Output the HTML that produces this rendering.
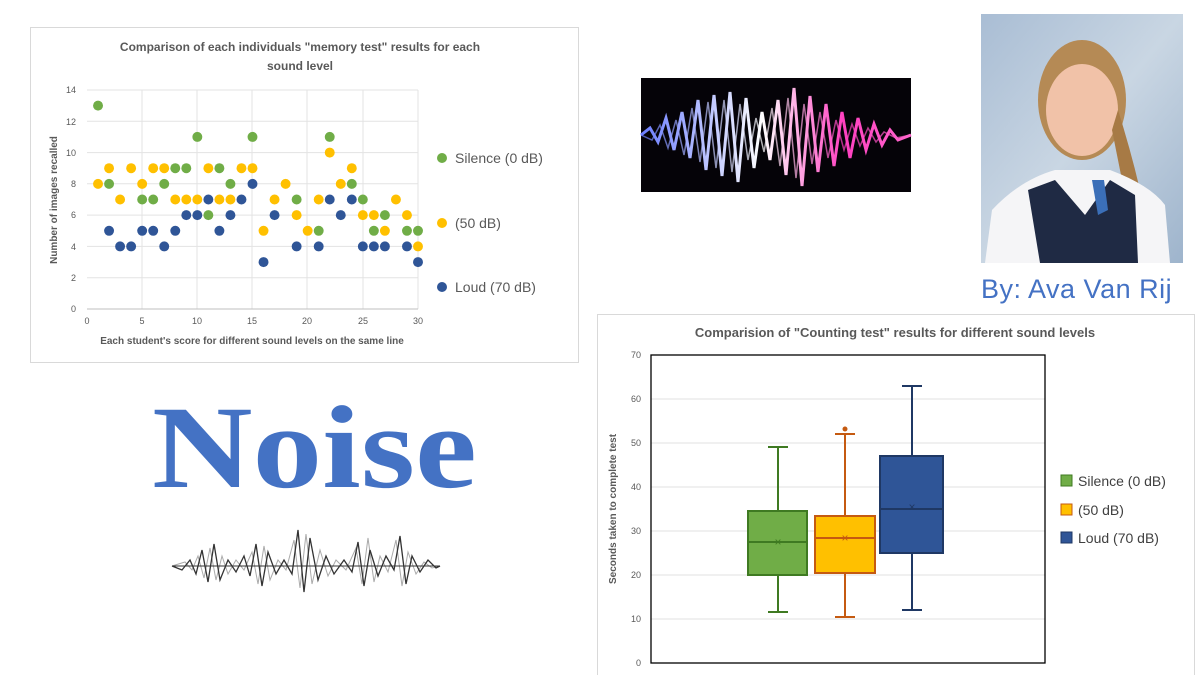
<!DOCTYPE html>
<html><head><style>
body{margin:0;width:1200px;height:675px;background:#fff;position:relative;overflow:hidden;font-family:"Liberation Sans",sans-serif}
.a{position:absolute}
</style></head><body>
<svg class="a" style="left:0;top:0" width="1200" height="675">
<!-- scatter chart frame -->
<rect x="30.5" y="27.5" width="548" height="335" fill="#fff" stroke="#d9d9d9"/>
<text x="300" y="51" font-size="12" font-weight="bold" fill="#595959" text-anchor="middle">Comparison of each individuals "memory test" results for each</text>
<text x="300" y="70" font-size="12" font-weight="bold" fill="#595959" text-anchor="middle">sound level</text>
<g stroke="#e3e3e3" stroke-width="1">
<line x1="87" x2="418" y1="90" y2="90"/><line x1="87" x2="418" y1="121.3" y2="121.3"/><line x1="87" x2="418" y1="152.6" y2="152.6"/><line x1="87" x2="418" y1="183.8" y2="183.8"/><line x1="87" x2="418" y1="215.1" y2="215.1"/><line x1="87" x2="418" y1="246.4" y2="246.4"/><line x1="87" x2="418" y1="277.7" y2="277.7"/>
<line x1="142" x2="142" y1="90" y2="309"/><line x1="197" x2="197" y1="90" y2="309"/><line x1="252" x2="252" y1="90" y2="309"/><line x1="307" x2="307" y1="90" y2="309"/><line x1="363" x2="363" y1="90" y2="309"/><line x1="418" x2="418" y1="90" y2="309"/>
</g>
<line x1="87" x2="418" y1="309" y2="309" stroke="#bfbfbf"/>
<g font-size="9" fill="#595959" text-anchor="end">
<text x="76" y="312">0</text><text x="76" y="281">2</text><text x="76" y="250">4</text><text x="76" y="218">6</text><text x="76" y="187">8</text><text x="76" y="156">10</text><text x="76" y="125">12</text><text x="76" y="93">14</text>
</g>
<g font-size="9" fill="#595959" text-anchor="middle">
<text x="87" y="324">0</text><text x="142" y="324">5</text><text x="197" y="324">10</text><text x="252" y="324">15</text><text x="307" y="324">20</text><text x="363" y="324">25</text><text x="418" y="324">30</text>
</g>
<text x="252" y="344" font-size="10" font-weight="bold" fill="#595959" text-anchor="middle">Each student's score for different sound levels on the same line</text>
<text transform="translate(57,200) rotate(-90)" font-size="10" font-weight="bold" fill="#595959" text-anchor="middle">Number of images recalled</text>
<svg x="87" y="90" width="331" height="219" viewBox="0 0 30 14" preserveAspectRatio="none" overflow="visible">
<g fill="#70ad47">
<ellipse cx="1" cy="1" rx=".45" ry=".32"/><ellipse cx="2" cy="6" rx=".45" ry=".32"/><ellipse cx="5" cy="7" rx=".45" ry=".32"/><ellipse cx="6" cy="7" rx=".45" ry=".32"/><ellipse cx="7" cy="6" rx=".45" ry=".32"/><ellipse cx="8" cy="5" rx=".45" ry=".32"/><ellipse cx="9" cy="5" rx=".45" ry=".32"/><ellipse cx="10" cy="3" rx=".45" ry=".32"/><ellipse cx="11" cy="8" rx=".45" ry=".32"/><ellipse cx="12" cy="5" rx=".45" ry=".32"/><ellipse cx="13" cy="6" rx=".45" ry=".32"/><ellipse cx="15" cy="3" rx=".45" ry=".32"/><ellipse cx="19" cy="7" rx=".45" ry=".32"/><ellipse cx="21" cy="9" rx=".45" ry=".32"/><ellipse cx="22" cy="3" rx=".45" ry=".32"/><ellipse cx="24" cy="6" rx=".45" ry=".32"/><ellipse cx="25" cy="7" rx=".45" ry=".32"/><ellipse cx="26" cy="9" rx=".45" ry=".32"/><ellipse cx="27" cy="8" rx=".45" ry=".32"/><ellipse cx="29" cy="9" rx=".45" ry=".32"/><ellipse cx="30" cy="9" rx=".45" ry=".32"/>
</g>
<g fill="#ffc000">
<ellipse cx="1" cy="6" rx=".45" ry=".32"/><ellipse cx="2" cy="5" rx=".45" ry=".32"/><ellipse cx="3" cy="7" rx=".45" ry=".32"/><ellipse cx="4" cy="5" rx=".45" ry=".32"/><ellipse cx="5" cy="6" rx=".45" ry=".32"/><ellipse cx="6" cy="5" rx=".45" ry=".32"/><ellipse cx="7" cy="5" rx=".45" ry=".32"/><ellipse cx="8" cy="7" rx=".45" ry=".32"/><ellipse cx="9" cy="7" rx=".45" ry=".32"/><ellipse cx="10" cy="7" rx=".45" ry=".32"/><ellipse cx="11" cy="5" rx=".45" ry=".32"/><ellipse cx="12" cy="7" rx=".45" ry=".32"/><ellipse cx="13" cy="7" rx=".45" ry=".32"/><ellipse cx="14" cy="5" rx=".45" ry=".32"/><ellipse cx="15" cy="5" rx=".45" ry=".32"/><ellipse cx="16" cy="9" rx=".45" ry=".32"/><ellipse cx="17" cy="7" rx=".45" ry=".32"/><ellipse cx="18" cy="6" rx=".45" ry=".32"/><ellipse cx="19" cy="8" rx=".45" ry=".32"/><ellipse cx="20" cy="9" rx=".45" ry=".32"/><ellipse cx="21" cy="7" rx=".45" ry=".32"/><ellipse cx="22" cy="4" rx=".45" ry=".32"/><ellipse cx="23" cy="6" rx=".45" ry=".32"/><ellipse cx="24" cy="5" rx=".45" ry=".32"/><ellipse cx="25" cy="8" rx=".45" ry=".32"/><ellipse cx="26" cy="8" rx=".45" ry=".32"/><ellipse cx="27" cy="9" rx=".45" ry=".32"/><ellipse cx="28" cy="7" rx=".45" ry=".32"/><ellipse cx="29" cy="8" rx=".45" ry=".32"/><ellipse cx="30" cy="10" rx=".45" ry=".32"/>
</g>
<g fill="#2f5597">
<ellipse cx="2" cy="9" rx=".45" ry=".32"/><ellipse cx="3" cy="10" rx=".45" ry=".32"/><ellipse cx="4" cy="10" rx=".45" ry=".32"/><ellipse cx="5" cy="9" rx=".45" ry=".32"/><ellipse cx="6" cy="9" rx=".45" ry=".32"/><ellipse cx="7" cy="10" rx=".45" ry=".32"/><ellipse cx="8" cy="9" rx=".45" ry=".32"/><ellipse cx="9" cy="8" rx=".45" ry=".32"/><ellipse cx="10" cy="8" rx=".45" ry=".32"/><ellipse cx="11" cy="7" rx=".45" ry=".32"/><ellipse cx="12" cy="9" rx=".45" ry=".32"/><ellipse cx="13" cy="8" rx=".45" ry=".32"/><ellipse cx="14" cy="7" rx=".45" ry=".32"/><ellipse cx="15" cy="6" rx=".45" ry=".32"/><ellipse cx="16" cy="11" rx=".45" ry=".32"/><ellipse cx="17" cy="8" rx=".45" ry=".32"/><ellipse cx="19" cy="10" rx=".45" ry=".32"/><ellipse cx="21" cy="10" rx=".45" ry=".32"/><ellipse cx="22" cy="7" rx=".45" ry=".32"/><ellipse cx="23" cy="8" rx=".45" ry=".32"/><ellipse cx="24" cy="7" rx=".45" ry=".32"/><ellipse cx="25" cy="10" rx=".45" ry=".32"/><ellipse cx="26" cy="10" rx=".45" ry=".32"/><ellipse cx="27" cy="10" rx=".45" ry=".32"/><ellipse cx="29" cy="10" rx=".45" ry=".32"/><ellipse cx="30" cy="11" rx=".45" ry=".32"/>
</g>
</svg>
<circle cx="442" cy="158" r="5" fill="#70ad47"/><text x="455" y="163" font-size="14" fill="#595959">Silence (0 dB)</text>
<circle cx="442" cy="223" r="5" fill="#ffc000"/><text x="455" y="228" font-size="14" fill="#595959">(50 dB)</text>
<circle cx="442" cy="287" r="5" fill="#2f5597"/><text x="455" y="292" font-size="14" fill="#595959">Loud (70 dB)</text>

<!-- neon wave -->
<rect x="641" y="78" width="270" height="114" fill="#050308"/>
<defs><linearGradient id="ng" x1="0" x2="1"><stop offset="0" stop-color="#6a7cff"/><stop offset=".45" stop-color="#ffffff"/><stop offset=".75" stop-color="#ff3fc0"/><stop offset="1" stop-color="#ff66cc"/></linearGradient></defs>
<polyline fill="none" stroke="url(#ng)" stroke-width="3" points="641,135 650,128 658,142 666,118 674,150 682,112 690,158 698,100 706,170 714,95 722,176 730,92 738,182 746,98 754,168 762,112 770,160 778,100 786,175 794,88 802,186 810,96 818,172 826,104 834,166 842,112 850,158 858,118 866,150 874,124 882,145 890,130 898,140 911,135"/>
<polyline fill="none" stroke="url(#ng)" stroke-width="1.5" opacity=".7" points="641,135 652,140 660,125 668,148 676,120 684,155 692,108 700,162 708,102 716,168 724,100 732,172 740,104 748,160 756,118 764,152 772,108 780,166 788,98 796,178 804,104 812,164 820,112 828,158 836,120 844,150 852,124 860,146 868,128 876,142 884,132 896,138 911,135"/>

<!-- photo -->
<defs><linearGradient id="pg" x1="0" y1="0" x2="1" y2="1"><stop offset="0" stop-color="#a9bdd4"/><stop offset=".5" stop-color="#c9d6e3"/><stop offset="1" stop-color="#9eb4cc"/></linearGradient></defs>
<rect x="981" y="14" width="202" height="249" fill="url(#pg)"/>
<ellipse cx="1082" cy="100" rx="44" ry="60" fill="#b58a55"/>
<ellipse cx="1082" cy="110" rx="36" ry="46" fill="#f1c2a8"/>
<path d="M1118,110 Q1140,180 1150,240 L1135,245 Q1122,180 1112,130Z" fill="#a77a45"/>
<path d="M985,263 L992,210 Q1020,180 1055,170 L1110,170 Q1150,185 1165,205 L1170,263Z" fill="#f5f5f7"/>
<path d="M1028,190 L1055,180 L1085,215 L1110,180 L1135,195 L1138,263 L1040,263Z" fill="#1f2a44"/>
<path d="M1092,180 L1104,180 L1108,210 L1098,215Z" fill="#3b6fb8"/>
<text x="981" y="298" font-size="27" fill="#4472c4" letter-spacing="0.5">By: Ava Van Rij</text>

<!-- Noise -->
<text x="0" y="0" transform="translate(152,487) scale(1.18,1)" font-family="Liberation Serif,serif" font-weight="bold" font-size="118" fill="#4472c4">Noise</text>

<!-- small wave -->
<polyline fill="none" stroke="#aaa" stroke-width="1" points="172,566 185,562 192,570 198,556 204,578 210,548 216,580 222,556 228,574 236,560 244,570 252,552 258,584 264,546 270,580 278,560 286,570 294,540 300,588 306,534 312,584 320,550 328,576 336,560 346,570 356,548 362,584 368,538 374,582 380,556 388,572 396,540 402,586 408,552 416,574 424,562 432,568 440,566"/>
<polyline fill="none" stroke="#333" stroke-width="1.3" points="172,566 182,570 190,560 196,574 202,550 208,582 214,544 220,580 228,560 236,572 244,556 250,576 256,544 262,586 268,552 276,574 284,560 292,574 298,530 304,592 310,538 318,580 326,556 334,574 344,560 352,572 358,542 364,586 370,550 378,576 386,556 394,570 400,536 406,584 412,556 420,572 428,560 436,568 440,566"/>
<line x1="172" x2="440" y1="566" y2="566" stroke="#333" stroke-width="1"/>

<!-- box chart -->
<rect x="597.5" y="314.5" width="597" height="370" fill="#fff" stroke="#d9d9d9"/>
<text x="895" y="337" font-size="13" font-weight="bold" fill="#595959" text-anchor="middle">Comparision of "Counting test" results for different sound levels</text>
<g stroke="#e0e0e0"><line x1="651" x2="1045" y1="355" y2="355"/><line x1="651" x2="1045" y1="399" y2="399"/><line x1="651" x2="1045" y1="443" y2="443"/><line x1="651" x2="1045" y1="487" y2="487"/><line x1="651" x2="1045" y1="531" y2="531"/><line x1="651" x2="1045" y1="575" y2="575"/><line x1="651" x2="1045" y1="619" y2="619"/></g>
<rect x="651" y="355" width="394" height="308" fill="none" stroke="#000" stroke-width="1.3"/>
<g font-size="9" fill="#595959" text-anchor="end">
<text x="641" y="666">0</text><text x="641" y="622">10</text><text x="641" y="578">20</text><text x="641" y="534">30</text><text x="641" y="490">40</text><text x="641" y="446">50</text><text x="641" y="402">60</text><text x="641" y="358">70</text>
</g>
<text transform="translate(616,509) rotate(-90)" font-size="10" font-weight="bold" fill="#595959" text-anchor="middle">Seconds taken to complete test</text>
<g stroke="#3f7a22" stroke-width="2" fill="none"><line x1="778" x2="778" y1="447" y2="612"/><line x1="768" x2="788" y1="447" y2="447"/><line x1="768" x2="788" y1="612" y2="612"/></g>
<rect x="748" y="511" width="59" height="64" fill="#70ad47" stroke="#3f7a22" stroke-width="2"/>
<line x1="748" x2="807" y1="542" y2="542" stroke="#3f7a22" stroke-width="2"/>
<text x="778" y="546" font-size="12" fill="#3f7a22" text-anchor="middle">×</text>
<g stroke="#c55a11" stroke-width="2" fill="none"><line x1="845" x2="845" y1="434" y2="617"/><line x1="835" x2="855" y1="434" y2="434"/><line x1="835" x2="855" y1="617" y2="617"/></g>
<circle cx="845" cy="429" r="2.5" fill="#c55a11"/>
<rect x="815" y="516" width="60" height="57" fill="#ffc000" stroke="#c55a11" stroke-width="2"/>
<line x1="815" x2="875" y1="538" y2="538" stroke="#c55a11" stroke-width="2"/>
<text x="845" y="542" font-size="12" fill="#c55a11" text-anchor="middle">×</text>
<g stroke="#1f3864" stroke-width="2" fill="none"><line x1="912" x2="912" y1="386" y2="610"/><line x1="902" x2="922" y1="386" y2="386"/><line x1="902" x2="922" y1="610" y2="610"/></g>
<rect x="880" y="456" width="63" height="97" fill="#2f5597" stroke="#1f3864" stroke-width="2"/>
<line x1="880" x2="943" y1="509" y2="509" stroke="#1f3864" stroke-width="2"/>
<text x="912" y="511" font-size="12" fill="#1f3864" text-anchor="middle">×</text>
<rect x="1061" y="475" width="11" height="11" fill="#70ad47" stroke="#3f7a22"/><text x="1078" y="486" font-size="14" fill="#404040">Silence (0 dB)</text>
<rect x="1061" y="504" width="11" height="11" fill="#ffc000" stroke="#c55a11"/><text x="1078" y="515" font-size="14" fill="#404040"> (50 dB)</text>
<rect x="1061" y="532" width="11" height="11" fill="#2f5597" stroke="#1f3864"/><text x="1078" y="543" font-size="14" fill="#404040">Loud (70 dB)</text>
</svg>
</body></html>
